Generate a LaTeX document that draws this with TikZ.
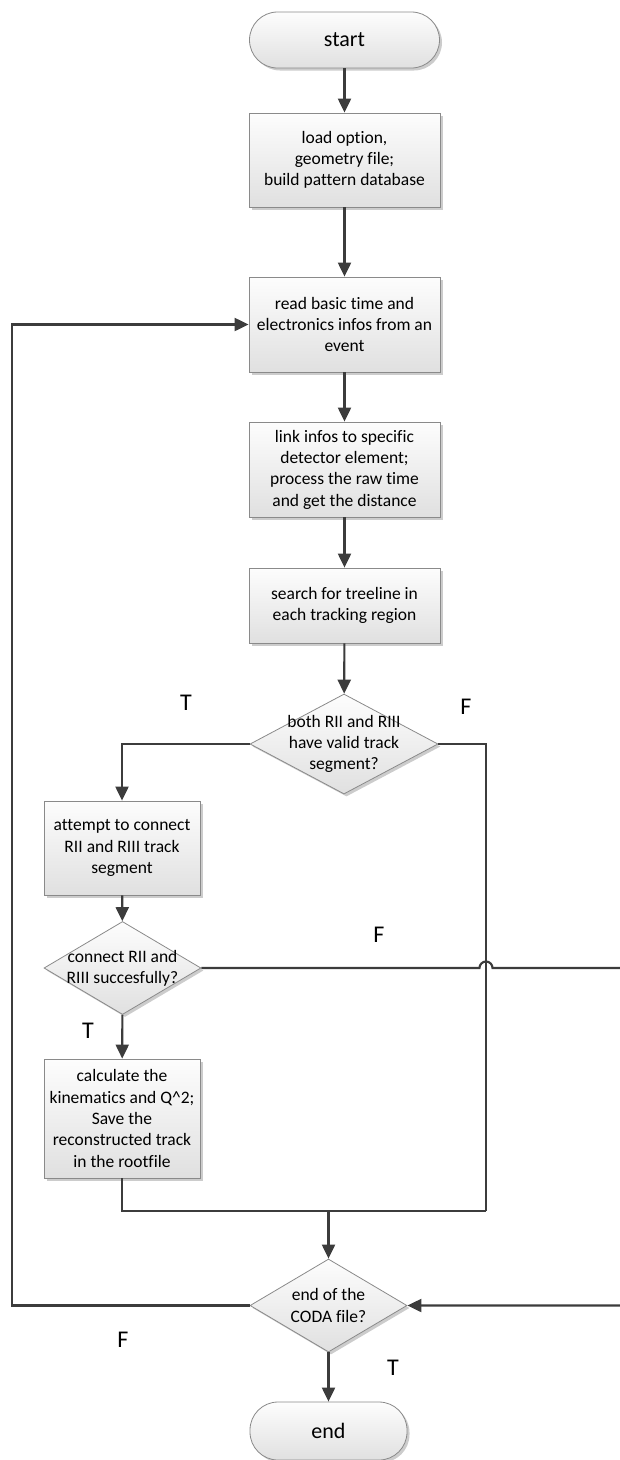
\documentclass[tikz,border=0pt]{standalone}
\usepackage{fontspec}
\setmainfont{Carlito}[RawFeature={-liga;-clig;-rlig;-dlig;-calt}]
\usetikzlibrary{shapes.geometric,arrows.meta,shadows}
\definecolor{linec}{HTML}{3C3C3C}
\definecolor{borderc}{HTML}{8A8A8A}
\definecolor{topc}{HTML}{FDFDFD}
\definecolor{botc}{HTML}{E0E0E0}
\begin{document}
\begin{tikzpicture}[x=1pt,y=-1pt,
  every node/.style={font=\fontsize{17.5}{21.3}\selectfont},
  shapebase/.style={draw=borderc, line width=0.8pt, top color=topc, bottom color=botc, inner sep=0pt,
    drop shadow={shadow xshift=2.5pt, shadow yshift=-2.5pt, fill=black, opacity=0.2}},
  procbox/.style={shapebase, rectangle, align=center},
  term/.style={shapebase, rectangle, rounded corners=28pt, font=\fontsize{22}{26}\selectfont},
  decision/.style={shapebase, diamond},
  dtext/.style={align=center, inner sep=0pt},
  conn/.style={draw=linec, line width=2.1pt},
  arr/.style={conn, -{Triangle[length=14pt,width=13pt]}},
  tflabel/.style={font=\fontsize{24}{28}\selectfont, text=black, inner sep=0pt}
]
\useasboundingbox (0,0) rectangle (620,1460);

% nodes
\node[term, minimum width=190pt, minimum height=56pt] (start) at (344.5,40) {start};
\node[procbox, minimum width=191pt, minimum height=94pt] (b1) at (344.5,160) {load option,\\ geometry file;\\ build pattern database};
\node[procbox, minimum width=191pt, minimum height=95pt] (b2) at (344.5,324.5) {read basic time and\\ electronics infos from an\\ event};
\node[procbox, minimum width=191pt, minimum height=95pt] (b3) at (344.5,469.5) {link infos to specific\\ detector element;\\ process the raw time\\ and get the distance};
\node[procbox, minimum width=191pt, minimum height=75pt] (b4) at (344.5,605.5) {search for treeline in\\ each tracking region};
\node[decision, minimum width=188pt, minimum height=100pt] (d1) at (344,744) {};
\node[dtext] (d1t) at (d1) {both RII and RIII\\ have valid track\\ segment?};
\node[procbox, minimum width=156pt, minimum height=94pt] (att) at (122,848) {attempt to connect\\ RII and RIII track\\ segment};
\node[decision, minimum width=157pt, minimum height=93pt] (d2) at (122.5,968) {};
\node[dtext] (d2t) at (d2) {connect RII and\\ RIII succesfully?};
\node[procbox, minimum width=156pt, minimum height=119pt] (calc) at (122,1118.5) {calculate the\\ kinematics and Q\^{}2;\\ Save the\\ reconstructed track\\ in the rootfile};
\node[decision, minimum width=157pt, minimum height=93pt] (d3) at (328.5,1305.5) {};
\node[dtext] (d3t) at (d3) {end of the\\ CODA file?};
\node[term, minimum width=157pt, minimum height=58pt] (end) at (328.5,1431) {end};

% labels
\node[tflabel] (t1) at (186,703) {T};
\node[tflabel] (f1) at (466,707) {F};
\node[tflabel] (f2) at (379,935) {F};
\node[tflabel] (t2) at (88,1031) {T};
\node[tflabel] (f3) at (123,1340) {F};
\node[tflabel] (t3) at (393,1368) {T};

% helper coordinates
\coordinate (jr) at (486,1211);
\coordinate (jm) at (328.5,1211);
\coordinate (h1) at (479.5,968);
\coordinate (rt) at (624,968);
\coordinate (ll) at (12,1305.5);

% connectors
\draw[arr] (start) -- (b1);
\draw[arr] (b1) -- (b2);
\draw[arr] (b2) -- (b3);
\draw[arr] (b3) -- (b4);
\draw[arr] (b4) -- (d1);
\draw[arr] (d1.west) -| (att.north);
\draw[arr] (att) -- (d2);
\draw[arr] (d2) -- (calc);
\draw[conn] (d1.east) -| (jr);
\draw[conn] (calc.south) |- (jr);
\draw[arr] (jm) -- (d3.north);
\draw[arr] (d2.east) -- (h1) arc[start angle=180, end angle=0, radius=6.5pt] -- (rt) |- (d3.east);
\draw[arr] (d3.west) -- (ll) |- (b2.west);
\draw[arr] (d3) -- (end);
\end{tikzpicture}
\end{document}
